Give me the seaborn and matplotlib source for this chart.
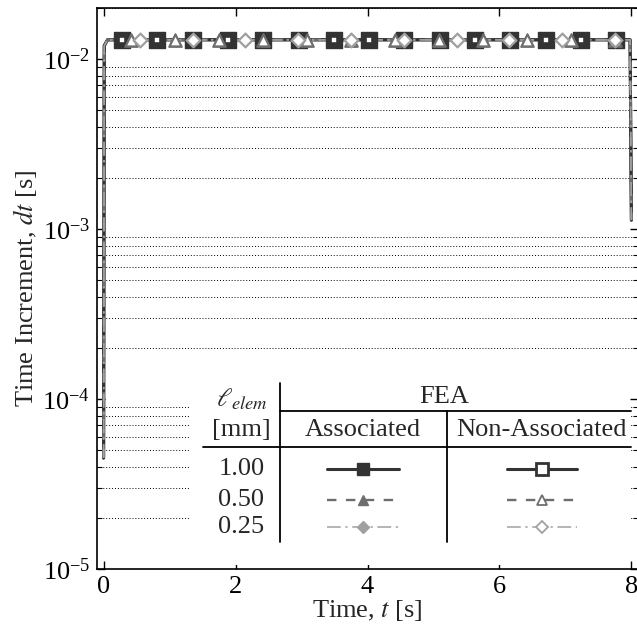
import matplotlib
matplotlib.use("Agg")
import matplotlib.pyplot as plt
import numpy as np
import pandas as pd
import seaborn as sns
from matplotlib.patches import Rectangle
from matplotlib.ticker import LogLocator, NullFormatter, FixedLocator

# ---------------------------------------------------------------------------
# Time-step history (all runs follow the same envelope)
# ---------------------------------------------------------------------------
t_path = [0.0, 0.01, 0.06, 7.98, 8.0]
dt_path = [4.5e-5, 0.012, 0.013, 0.013, 1.13e-3]
dt_plateau = 0.013

# Times at which the symbols sit on each curve (same for both formulations)
t_mark_100 = [0.28, 0.815, 1.35, 1.885, 2.42, 2.955, 3.49, 4.025, 4.56,
              5.095, 5.63, 6.165, 6.70, 7.235, 7.77]
t_mark_050 = [0.42, 1.087, 1.753, 2.42, 3.087, 3.753, 4.42, 5.087, 5.753,
              6.42, 7.087, 7.753]
t_mark_025 = [0.55, 1.35, 2.15, 2.95, 3.75, 4.55, 5.35, 6.15, 6.95, 7.75]

elem_sizes = ["1.00", "0.50", "0.25"]
formulations = ["Associated", "Non-Associated"]

sns.set_theme(style="ticks")
plt.rcParams["font.family"] = ["Liberation Serif", "DejaVu Serif"]
plt.rcParams["mathtext.fontset"] = "stix"
plt.rcParams["axes.linewidth"] = 1.2

FS = 19

fig = plt.figure(figsize=(6.37, 6.26), dpi=100)
ax = fig.add_axes([97 / 637, 1 - 569 / 626, 541 / 637, 561 / 626])

# line and symbol styles per element size
line_styles = {
    "1.00": dict(color="#333333", lw=2.2, ls="-"),
    "0.50": dict(color="#6e6e6e", lw=1.7, ls=(0, (4, 4))),
    "0.25": dict(color="#a0a0a0", lw=1.1, ls=(0, (9, 3, 1.5, 3))),
}
symbols = {"1.00": "s", "0.50": "^", "0.25": "D"}
plot_ms = {"1.00": (11.5, 6.0), "0.50": (9.5, 8.5), "0.25": (7.5, 6.5)}
open_mew = {"1.00": 2.6, "0.50": 1.5, "0.25": 1.2}
mark_times = {"1.00": t_mark_100, "0.50": t_mark_050, "0.25": t_mark_025}

path_df = pd.DataFrame({"t": t_path, "dt": dt_path})
for size in elem_sizes:
    for form in formulations:
        st = line_styles[size]
        sns.lineplot(data=path_df, x="t", y="dt", ax=ax, color=st["color"],
                     lw=st["lw"], linestyle=st["ls"], sort=False,
                     estimator=None, zorder=3)

z = 4
for size in elem_sizes:
    st = line_styles[size]
    times = mark_times[size]
    mdf = pd.DataFrame({"t": times, "dt": [dt_plateau] * len(times)})
    ms_fill, ms_open = plot_ms[size]
    # associated: filled symbol
    sns.scatterplot(data=mdf, x="t", y="dt", ax=ax, marker=symbols[size],
                    s=ms_fill ** 2, color=st["color"], edgecolor=st["color"],
                    linewidth=1.0, zorder=z)
    # non-associated: open symbol
    sns.scatterplot(data=mdf, x="t", y="dt", ax=ax, marker=symbols[size],
                    s=ms_open ** 2, color="white", edgecolor=st["color"],
                    linewidth=open_mew[size], zorder=z + 1)
    z += 2

ax.set_yscale("log")
ax.set_xlim(-0.1, 8.1)
ax.set_ylim(1e-5, 2e-2)
ax.xaxis.set_major_locator(FixedLocator([0, 2, 4, 6, 8]))
ax.yaxis.set_major_locator(LogLocator(base=10, numticks=10))
ax.yaxis.set_minor_locator(LogLocator(base=10, subs=np.arange(2, 10), numticks=20))
ax.yaxis.set_minor_formatter(NullFormatter())
ax.tick_params(which="both", direction="in", top=True, right=True,
               labelsize=FS, colors="black")
ax.tick_params(which="major", length=6, width=1, pad=5)
ax.tick_params(which="minor", length=3.5, width=0.8)
ax.yaxis.grid(True, which="minor", linestyle=(0, (1, 2)), color="black", lw=0.7)
ax.xaxis.grid(False)
ax.set_xlabel(r"Time, $t$ [s]", fontsize=FS, labelpad=0)
ax.set_ylabel(r"Time Increment, $dt$ [s]", fontsize=FS, labelpad=2)
for sp in ax.spines.values():
    sp.set_color("black")

# ---------------------------------------------------------------------------
# Tabular legend
# ---------------------------------------------------------------------------
tr = ax.transAxes
ax.add_patch(Rectangle((0.170, 0.007), 0.815, 0.333, transform=tr,
                       facecolor="white", edgecolor="none", zorder=20))
rule = dict(transform=tr, color="black", lw=1.3, zorder=21, clip_on=False)
ax.plot([0.338, 0.338], [0.332, 0.048], **rule)
ax.plot([0.338, 0.987], [0.282, 0.282], **rule)
ax.plot([0.196, 0.987], [0.2175, 0.2175], **rule)
ax.plot([0.647, 0.647], [0.282, 0.048], **rule)

txt = dict(transform=tr, fontsize=FS, ha="center", va="center", zorder=22)
ax.text(0.267, 0.302, r"$\ell_{elem}$", **txt)
ax.text(0.267, 0.248, "[mm]", **txt)
ax.text(0.641, 0.307, "FEA", **txt)
ax.text(0.4916, 0.248, formulations[0], **txt)
ax.text(0.822, 0.248, formulations[1], **txt)

row_y = [0.178, 0.123, 0.075]
leg_ms = {"1.00": 8.5, "0.50": 7.5, "0.25": 6.0}
for size, y in zip(elem_sizes, row_y):
    ax.text(0.267, y, size, **txt)
    st = line_styles[size]
    mk, ms = symbols[size], leg_ms[size]
    ax.plot([0.426, 0.559], [y, y], transform=tr, color=st["color"], lw=st["lw"],
            ls=st["ls"], zorder=21)
    ax.plot([0.4916], [y], transform=tr, marker=mk, ms=ms, color=st["color"],
            mfc=st["color"], mec=st["color"], zorder=22)
    ax.plot([0.757, 0.888], [y, y], transform=tr, color=st["color"], lw=st["lw"],
            ls=st["ls"], zorder=21)
    ax.plot([0.822], [y], transform=tr, marker=mk, ms=ms, color=st["color"],
            mfc="white", mec=st["color"], mew=2.0 if size == "1.00" else 1.3,
            zorder=22)

fig.savefig("out.png", dpi=100)
